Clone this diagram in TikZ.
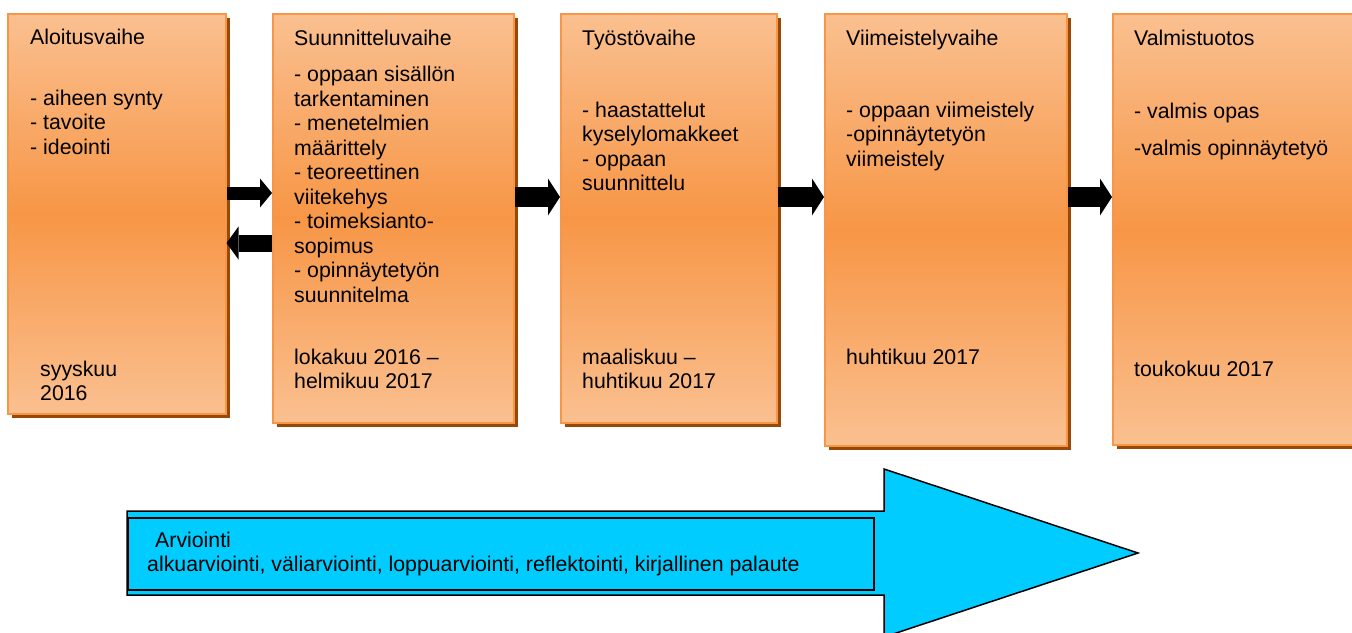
\documentclass[tikz,border=0pt]{standalone}
\usepackage{fontspec}
\setmainfont{Liberation Sans}
\usetikzlibrary{arrows.meta,shadows,calc}
\definecolor{oranssivaalea}{RGB}{250,192,144}
\definecolor{oranssi}{RGB}{247,150,70}
\definecolor{ruskea}{RGB}{152,72,7}
\definecolor{syaani}{RGB}{0,204,255}
\tikzstyle{vaihe} = [draw=oranssi, line width=1.5pt, top color=oranssivaalea, bottom color=oranssivaalea, middle color=oranssi, inner sep=0pt, anchor=north west, general shadow={fill=ruskea, shadow xshift=4pt, shadow yshift=-4pt}]
\tikzstyle{teksti} = [inner sep=0pt, anchor=base west, font=\fontsize{21.3pt}{24.5pt}\selectfont]
\tikzstyle{iso} = [draw=black, line width=1.5pt, fill=syaani]
\tikzstyle{arvio} = [draw=black, line width=1.5pt, fill=syaani, inner sep=0pt, anchor=north west]
\tikzset{siirto/.style 2 args={line width=#1, -{Triangle[length=12pt, width=#2, line width=0pt]}}}
\newcommand{\rivit}[1]{\begin{tabular}[t]{@{}l@{}}#1\end{tabular}}

\begin{document}
\begin{tikzpicture}[x=1pt, y=-1pt]
  \useasboundingbox (0,0) rectangle (1352,632);
  \clip (0,0) rectangle (1352,632);

  % vaiheet
  \node (v1)[vaihe, minimum width=218pt, minimum height=400pt] at (7,13) {};
  \node (v2)[vaihe, minimum width=241pt, minimum height=409pt] at (272,13) {};
  \node (v3)[vaihe, minimum width=216pt, minimum height=409pt] at (560,13) {};
  \node (v4)[vaihe, minimum width=242pt, minimum height=432pt] at (824,13) {};
  \node (v5)[vaihe, minimum width=242pt, minimum height=431pt] at (1112,13) {};

  \node (n1)[teksti] at (30,44) {Aloitusvaihe};
  \node (l1)[teksti] at (30,105) {\rivit{- aiheen synty\\- tavoite\\- ideointi}};
  \node (p1)[teksti] at (40,376) {\rivit{syyskuu\\2016}};

  \node (n2)[teksti] at (294,45) {Suunnitteluvaihe};
  \node (l2)[teksti] at (294,81.5) {\rivit{- oppaan sisällön\\tarkentaminen\\- menetelmien\\määrittely\\- teoreettinen\\viitekehys\\- toimeksianto-\\sopimus\\- opinnäytetyön\\suunnitelma}};
  \node (p2)[teksti] at (294,364) {\rivit{lokakuu 2016 –\\helmikuu 2017}};

  \node (n3)[teksti] at (582,45) {Työstövaihe};
  \node (l3)[teksti] at (582,117) {\rivit{- haastattelut\\kyselylomakkeet\\- oppaan\\suunnittelu}};
  \node (p3)[teksti] at (582,364) {\rivit{maaliskuu –\\huhtikuu 2017}};

  \node (n4)[teksti] at (846,45) {Viimeistelyvaihe};
  \node (l4)[teksti] at (846,117) {\rivit{- oppaan viimeistely\\-opinnäytetyön\\viimeistely}};
  \node (p4)[teksti] at (846,364) {huhtikuu 2017};

  \node (n5)[teksti] at (1134,45) {Valmistuotos};
  \node (l5)[teksti] at (1134,118) {\rivit{- valmis opas\\[12.5pt]-valmis opinnäytetyö}};
  \node (p5)[teksti] at (1134,376) {toukokuu 2017};

  % siirtymät
  \draw[siirto={13pt}{29pt}] (v1.east |- 0,193) -- (v2.west |- 0,193);
  \draw[siirto={17pt}{33pt}] (v2.west |- 0,243) -- (v1.east |- 0,243);
  \draw[siirto={20pt}{37pt}] (v2.east |- 0,197) -- (v3.west |- 0,197);
  \draw[siirto={20pt}{37pt}] (v3.east |- 0,197) -- (v4.west |- 0,197);
  \draw[siirto={20pt}{37pt}] (v4.east |- 0,197) -- (v5.west |- 0,197);

  % arviointi
  \draw[iso] (127,511) -- (884,511) -- (884,469) -- (1138,553) -- (884,637) -- (884,595) -- (127,595) -- cycle;
  \node (arvio)[arvio, minimum width=746pt, minimum height=72pt] at (127,517) {};
  \node (arviotxt)[teksti] at (147,547) {\rivit{\hspace{8pt}Arviointi\\alkuarviointi, väliarviointi, loppuarviointi, reflektointi, kirjallinen palaute}};
\end{tikzpicture}
\end{document}
